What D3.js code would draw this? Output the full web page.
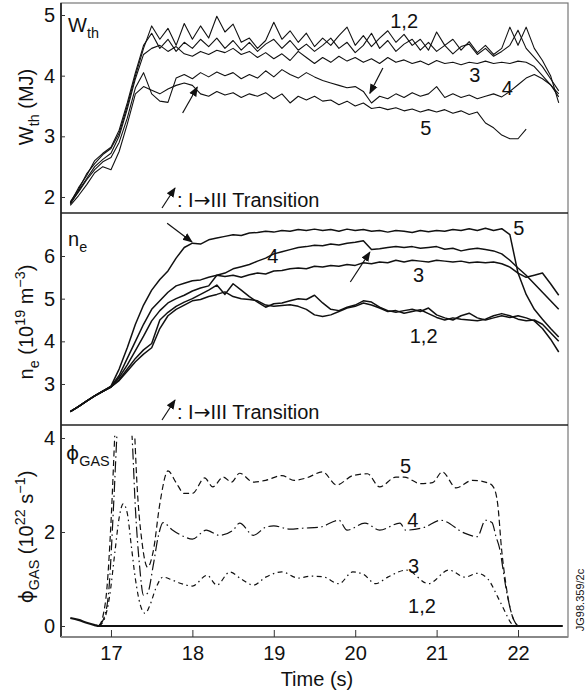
<!DOCTYPE html>
<html lang="en">
<head>
  <meta charset="utf8">
  <script type="text/javascript" src="https://cdn.jsdelivr.net/npm/d3@7"></script>
  <title>JET</title>
  <style>
    body { margin: 0; background: #fff; }
    text { font-family: "Liberation Sans", Arial, Helvetica, sans-serif; fill: #111; }
  </style>
</head>
<body>
  <div id="chart"></div>
<script type="text/javascript">

  // 时间 (s)
  var tGrid = [16.5, 16.6, 16.7, 16.8, 16.9,
    17.0, 17.1, 17.2, 17.3, 17.4, 17.5, 17.6, 17.7, 17.8, 17.9,
    18.0, 18.1, 18.2, 18.3, 18.4, 18.5, 18.6, 18.7, 18.8, 18.9,
    19.0, 19.1, 19.2, 19.3, 19.4, 19.5, 19.6, 19.7, 19.8, 19.9,
    20.0, 20.1, 20.2, 20.3, 20.4, 20.5, 20.6, 20.7, 20.8, 20.9,
    21.0, 21.1, 21.2, 21.3, 21.4, 21.5, 21.6, 21.7, 21.8, 21.9,
    22.0, 22.1, 22.2, 22.3, 22.4, 22.5];

  // W_th (MJ)
  var wth1 = [1.92, 2.12, 2.38, 2.55, 2.7,
    2.8, 3.05, 3.5, 4.0, 4.45, 4.82, 4.6, 4.78, 4.5, 4.86,
    4.6, 4.82, 4.62, 4.98, 4.72, 4.85, 4.55, 4.62, 4.45, 4.58,
    4.88, 4.6, 4.74, 4.55, 4.7, 4.48, 4.62, 4.5, 4.66, 4.8,
    4.5, 4.66, 4.48, 4.62, 4.74, 4.55, 4.68, 4.5, 4.6, 4.42,
    4.72, 4.5, 4.6, 4.42, 4.56, 4.38, 4.5, 4.35, 4.45, 4.8,
    4.5, 4.8, 4.45, 4.25, 4.0, 3.55];
  var wth2 = [1.9, 2.15, 2.35, 2.6, 2.72,
    2.82, 3.1, 3.55, 4.05, 4.5, 4.7, 4.45, 4.6, 4.4, 4.55,
    4.45, 4.6, 4.48, 4.62, 4.45, 4.58, 4.42, 4.55, 4.4, 4.52,
    4.6, 4.45, 4.58, 4.42, 4.52, 4.4, 4.5, 4.62, 4.45, 4.55,
    4.38, 4.5, 4.7, 4.45, 4.58, 4.4, 4.52, 4.6, 4.42, 4.55,
    4.4, 4.5, 4.36, 4.48, 4.52, 4.35, 4.45, 4.32, 4.4, 4.5,
    4.75, 4.45, 4.3, 4.15, 3.95, 3.75];
  var wth3 = [1.88, 2.1, 2.3, 2.5, 2.62,
    2.72, 3.0, 3.45, 3.95, 4.35, 4.45, 4.5, 4.4, 4.48, 4.36,
    4.32, 4.4, 4.35, 4.42, 4.38, 4.45, 4.35, 4.4, 4.3, 4.38,
    4.28, 4.36, 4.25, 4.4, 4.3, 4.2, 4.3, 4.22, 4.32, 4.24,
    4.3, 4.22, 4.28, 4.2, 4.3, 4.22, 4.26, 4.2, 4.24, 4.18,
    4.25, 4.2, 4.22, 4.18, 4.22, 4.2, 4.24, 4.2, 4.22, 4.2,
    4.24, 4.22, 4.15, 4.0, 3.85, 3.65];
  var wth4 = [1.9, 2.08, 2.28, 2.45, 2.58,
    2.65, 2.9, 3.3, 3.8, 4.05, 3.7, 3.58, 3.56, 3.96, 4.02,
    3.95, 4.05, 3.98, 4.06, 4.0, 4.05, 3.95, 4.02, 3.96, 4.08,
    3.98, 4.1, 4.02, 3.96, 4.05, 3.98, 3.92, 3.88, 3.84, 3.8,
    3.82, 3.74, 3.55, 3.66, 3.62, 3.7, 3.64, 3.72, 3.66, 3.7,
    3.82, 3.64, 3.7, 3.64, 3.68, 3.62, 3.66, 3.7, 3.65, 3.74,
    3.85, 3.96, 4.02, 3.95, 3.85, 3.7];
  var wth5 = [1.86, 2.02, 2.2, 2.4, 2.5,
    2.45, 2.75, 3.2, 3.7, 3.82, 3.76, 3.7, 3.78, 3.84, 3.88,
    3.84, 3.7, 3.66, 3.74, 3.68, 3.72, 3.64, 3.7, 3.66, 3.72,
    3.62, 3.7, 3.55, 3.66, 3.6, 3.66, 3.58, 3.6, 3.52, 3.58,
    3.5, 3.55, 3.46, 3.48, 3.44, 3.47, 3.42, 3.45, 3.4, 3.44,
    3.4, 3.44, 3.38, 3.42, 3.36, 3.4, 3.22, 3.14, 3.02, 2.96,
    2.96, 3.12, null, null, null, null];

  // n_e (10^19 m^-3)
  var ne1 = [2.35, 2.47, 2.6, 2.72, 2.83,
    2.93, 3.1, 3.35, 3.6, 3.8, 3.95, 4.5, 4.68, 4.82, 4.92,
    5.0, 5.1, 5.2, 5.32, 5.1, 5.35, 5.2, 5.05, 4.92, 4.8,
    4.88, 4.9, 4.95, 5.0, 4.98, 5.08, 4.9, 4.75, 4.72, 4.8,
    4.85, 4.95, 4.92, 4.8, 4.72, 4.68, 4.72, 4.75, 4.7, 4.78,
    4.62, 4.55, 4.5, 4.6, 4.66, 4.55, 4.5, 4.55, 4.6, 4.56,
    4.6, 4.55, 4.48, 4.3, 4.05, 3.75];
  var ne2 = [2.35, 2.47, 2.6, 2.72, 2.83,
    2.93, 3.08, 3.3, 3.52, 3.7, 3.85, 4.3, 4.6, 4.75, 4.85,
    4.95, 4.98, 5.05, 5.1, 5.16, 5.05, 5.0, 4.98, 4.95, 4.85,
    4.82, 4.84, 4.86, 4.82, 4.75, 4.62, 4.58, 4.62, 4.7, 4.78,
    4.82, 4.9, 4.85, 4.78, 4.7, 4.72, 4.66, 4.7, 4.74, 4.65,
    4.56, 4.5, 4.55, 4.52, 4.5, 4.48, 4.52, 4.6, 4.65, 4.6,
    4.52, 4.48, 4.5, 4.4, 4.2, 4.0];
  var ne3 = [2.35, 2.47, 2.6, 2.72, 2.83,
    2.93, 3.15, 3.45, 3.78, 4.12, 4.48, 4.72, 4.9, 5.0, 5.08,
    5.18, 5.25, 5.3, 5.55, 5.52, 5.55, 5.5, 5.56, 5.6, 5.58,
    5.65, 5.66, 5.7, 5.72, 5.7, 5.76, 5.74, 5.78, 5.76, 5.8,
    5.78, 5.84, 5.82, 5.86, 5.84, 5.9, 5.86, 5.9, 5.88, 5.86,
    5.9, 5.88, 5.86, 5.88, 5.84, 5.86, 5.84, 5.86, 5.82, 5.74,
    5.6, 5.5, 5.55, 5.6, 5.35, 5.08];
  var ne4 = [2.35, 2.47, 2.6, 2.72, 2.83,
    2.94, 3.2, 3.6, 4.0, 4.4, 4.75, 4.95, 5.15, 5.3, 5.36,
    5.42, 5.44, 5.5, 5.55, 5.6, 5.7, 5.75, 5.8, 5.88, 5.95,
    6.05, 6.1, 6.15, 6.2, 6.22, 6.25, 6.24, 6.28, 6.26, 6.3,
    6.32, 6.36, 6.15, 6.17, 6.2, 6.22, 6.2, 6.22, 6.18, 6.2,
    6.22, 6.16, 6.18, 6.12, 6.16, 6.18, 6.15, 6.12, 6.05, 5.9,
    5.72, 5.55, 5.35, 5.15, 4.95, 4.75];
  var ne5 = [2.35, 2.47, 2.6, 2.72, 2.83,
    2.95, 3.35, 3.85, 4.4, 4.85, 5.2, 5.45, 5.65, 5.95, 6.2,
    6.3, 6.28, 6.38, 6.42, 6.46, 6.5, 6.48, 6.54, 6.55, 6.58,
    6.56, 6.6, 6.58, 6.62, 6.6, 6.63, 6.6, 6.62, 6.58, 6.63,
    6.6, 6.62, 6.58, 6.6, 6.56, 6.6, 6.58, 6.55, 6.6, 6.57,
    6.6, 6.58, 6.62, 6.6, 6.64, 6.6, 6.65, 6.6, 6.64, 6.5,
    5.6, 5.1, 4.75, 4.52, 4.3, 4.1];

  // phi_GAS (10^22 s^-1)
  var gasT12 = [16.5, 16.6, 16.7, 16.8, 16.85, 17.0, 22.55];
  var gas12 = [0.17, 0.13, 0.07, 0.02, 0, 0, 0];
  var gasT3 = [16.85, 16.92, 16.98, 17.05, 17.1, 17.15, 17.2, 17.25, 17.3, 17.36, 17.42, 17.48, 17.55,
    17.64, 17.75, 17.85, 18.0, 18.18, 18.3, 18.46, 18.6, 18.75, 18.9, 19.1, 19.3, 19.45, 19.6,
    19.8, 19.97, 20.1, 20.25, 20.4, 20.63, 20.9, 21.15, 21.35, 21.5, 21.63, 21.75, 21.85, 21.9, 21.95];
  var gas3 = [0, 0.15, 0.6, 1.6, 2.3, 2.6, 2.4, 1.7, 1.0, 0.45, 0.27, 0.45, 0.8,
    1.04, 0.98, 0.91, 0.85, 1.08, 0.87, 1.15, 1.0, 0.87, 1.04, 1.15, 1.02, 1.06, 1.05,
    0.9, 1.15, 1.1, 0.9, 1.04, 1.19, 0.9, 1.19, 1.04, 1.12, 1.0, 0.62, 0.27, 0.1, 0];
  var gasT4 = [16.85, 16.92, 16.98, 17.03, 17.08, 17.15, 17.22, 17.26, 17.3, 17.35, 17.4, 17.45, 17.52,
    17.58, 17.64, 17.75, 17.9, 18.0, 18.17, 18.33, 18.5, 18.58, 18.75, 18.9, 19.0, 19.2, 19.35,
    19.56, 19.8, 19.9, 20.12, 20.3, 20.55, 20.62, 20.85, 21.05, 21.35, 21.5, 21.6, 21.68, 21.73,
    21.77, 21.85, 21.9, 21.95, 22.0];
  var gas4 = [0, 0.2, 0.9, 2.5, 4.3, 6.0, 5.0, 4.0, 2.5, 1.3, 0.65, 0.7, 1.3,
    1.9, 2.2, 2.05, 1.9, 1.85, 2.04, 1.93, 2.04, 2.19, 1.93, 2.1, 2.13, 2.06, 2.08,
    2.1, 2.25, 2.04, 2.19, 2.04, 2.19, 2.04, 2.1, 2.25, 1.97, 1.9, 2.25, 2.2, 1.9,
    1.68, 0.83, 0.4, 0.12, 0];
  var gasT5 = [16.85, 16.9, 16.95, 17.0, 17.05, 17.1, 17.2, 17.28, 17.32, 17.38, 17.45, 17.52, 17.6,
    17.7, 17.8, 17.9, 18.0, 18.15, 18.25, 18.38, 18.48, 18.58, 18.75, 18.9, 19.1, 19.25, 19.4,
    19.6, 19.77, 19.97, 20.15, 20.3, 20.5, 20.6, 20.8, 20.95, 21.07, 21.24, 21.44, 21.64, 21.7,
    21.75, 21.8, 21.85, 21.9, 21.95, 22.0];
  var gas5 = [0, 0.2, 0.8, 2.2, 4.2, 6.0, 6.5, 4.5, 3.0, 1.8, 1.25, 1.6, 2.6,
    3.3, 3.05, 2.82, 2.82, 3.15, 2.96, 3.17, 3.06, 3.25, 3.06, 3.1, 3.2, 3.1, 3.15,
    3.28, 3.0, 3.2, 3.24, 2.96, 3.17, 3.17, 3.03, 3.05, 3.28, 2.94, 3.1, 3.04, 2.95,
    2.6, 1.6, 0.9, 0.4, 0.12, 0];

  // 刻度
  var wTicks = [2, 3, 4, 5], neTicks = [3, 4, 5, 6], gasTicks = [0, 2, 4];
  var timeTicks = [17, 18, 19, 20, 21, 22];

  var width = 587, height = 693;
  var L = 61, R = 568;

  var svg = d3.select("#chart").append("svg")
    .attr("width", width).attr("height", height);

  var x = d3.scaleLinear().domain([16.386, 22.614]).range([L, R]);
  var yW = d3.scaleLinear().domain([1.736, 5.198]).range([213, 3]);
  var yN = d3.scaleLinear().domain([2.039, 7.008]).range([425, 213]);
  var yG = d3.scaleLinear().domain([-0.234, 4.277]).range([637, 425]);

  var defs = svg.append("defs");
  defs.append("marker").attr("id", "head")
    .attr("viewBox", "0 0 10 10").attr("refX", 9).attr("refY", 5)
    .attr("markerWidth", 10).attr("markerHeight", 10)
    .attr("markerUnits", "userSpaceOnUse").attr("orient", "auto")
    .append("path").attr("d", "M0,1 L10,5 L0,9 Z").attr("fill", "#111");

  function clip(id, y0, y1) {
    defs.append("clipPath").attr("id", id).append("rect")
      .attr("x", L).attr("y", y0).attr("width", R - L).attr("height", y1 - y0);
  }
  clip("c1", 4, 212);
  clip("c2", 214, 424);
  clip("c3", yG(4.05), 636);

  function series(ts, vs) {
    return ts.map(function (t, i) { return [t, vs[i]]; });
  }

  function drawLines(y, list, clipId, width, curve) {
    var line = d3.line()
      .defined(function (d) { return d[1] != null; })
      .x(function (d) { return x(d[0]); })
      .y(function (d) { return y(d[1]); })
      .curve(curve);
    var g = svg.append("g").attr("clip-path", "url(#" + clipId + ")")
      .attr("fill", "none").attr("stroke", "#111")
      .attr("stroke-linejoin", "round");
    list.forEach(function (s) {
      g.append("path").attr("d", line(s.data))
        .attr("stroke-width", s.w || width)
        .attr("stroke-dasharray", s.dash || null);
    });
  }

  // W_th
  drawLines(yW, [wth1, wth2, wth3, wth4, wth5].map(function (v) {
    return { data: series(tGrid, v) };
  }), "c1", 1.1, d3.curveLinear);

  // n_e
  drawLines(yN, [ne1, ne2, ne3, ne4, ne5].map(function (v) {
    return { data: series(tGrid, v) };
  }), "c2", 1.5, d3.curveLinear);

  // phi_GAS
  drawLines(yG, [
    { data: series(gasT3, gas3), dash: "5,3.5,1.5,3.5" },
    { data: series(gasT4, gas4), dash: "11,3.5,1.5,3.5" },
    { data: series(gasT5, gas5), dash: "6,3.5" },
    { data: series(gasT12, gas12), w: 2.2 }
  ], "c3", 1.2, d3.curveMonotoneX);

  // 边框
  svg.append("rect").attr("x", L).attr("y", 3).attr("width", R - L).attr("height", 634)
    .attr("fill", "none").attr("stroke", "#777").attr("stroke-width", 1.2);
  svg.append("line").attr("x1", L).attr("x2", L).attr("y1", 3).attr("y2", 637)
    .attr("stroke", "#111").attr("stroke-width", 1.5);
  [213, 425].forEach(function (yy) {
    svg.append("line").attr("x1", L).attr("x2", R).attr("y1", yy).attr("y2", yy)
      .attr("stroke", "#222").attr("stroke-width", 1.3);
  });
  svg.append("line").attr("x1", L).attr("x2", R).attr("y1", 637).attr("y2", 637)
    .attr("stroke", "#888").attr("stroke-width", 2);

  // 坐标轴
  function yAxis(y, ticks) {
    var g = svg.append("g").attr("transform", "translate(" + L + ",0)")
      .call(d3.axisLeft(y).tickValues(ticks).tickSize(-4).tickPadding(6).tickFormat(d3.format("d")));
    g.select(".domain").remove();
    g.selectAll("text").attr("font-size", 20).attr("font-family", null);
    g.selectAll("line").attr("stroke", "#333");
  }
  yAxis(yW, wTicks);
  yAxis(yN, neTicks);
  yAxis(yG, gasTicks);

  var gx = svg.append("g").attr("transform", "translate(0,637)")
    .call(d3.axisBottom(x).tickValues(timeTicks).tickSize(-7).tickPadding(9).tickFormat(d3.format("d")));
  gx.select(".domain").remove();
  gx.selectAll("text").attr("font-size", 20).attr("font-family", null);
  gx.selectAll("line").attr("stroke", "#333");

  svg.append("text").attr("x", x(19.53)).attr("y", 686)
    .attr("text-anchor", "middle").attr("font-size", 20).text("Time (s)");

  // 带下标/上标的文字
  function richText(parent, parts, size) {
    var t = parent.append("text").attr("font-size", size);
    var shift = 0;
    parts.forEach(function (p) {
      var dy = 0, fs = size;
      if (p[1] == "sub") { dy = size * 0.28; fs = size * 0.72; }
      if (p[1] == "sup") { dy = -size * 0.38; fs = size * 0.72; }
      var ts = t.append("tspan").attr("dy", dy - shift).attr("font-size", fs).text(p[0]);
      if (p[1] == "sym") ts.attr("font-family", "DejaVu Sans");
      shift = dy;
    });
    return t;
  }

  var phi = "\u03d5";
  richText(svg, [["W"], ["th", "sub"], [" (MJ)"]], 20)
    .attr("text-anchor", "middle").attr("transform", "translate(33,107) rotate(-90)");
  richText(svg, [["n"], ["e", "sub"], [" (10"], ["19", "sup"], [" m"], ["\u22123", "sup"], [")"]], 20)
    .attr("text-anchor", "middle").attr("transform", "translate(33,322) rotate(-90)");
  richText(svg, [[phi, "sym"], ["GAS", "sub"], [" (10"], ["22", "sup"], [" s"], ["\u22121", "sup"], [")"]], 20)
    .attr("text-anchor", "middle").attr("transform", "translate(33,537) rotate(-90)");

  richText(svg, [["W"], ["th", "sub"]], 20).attr("x", 68).attr("y", 32);
  richText(svg, [["n"], ["e", "sub"]], 20).attr("x", 68).attr("y", 246);
  richText(svg, [[phi, "sym"], ["GAS", "sub"]], 20).attr("x", 66).attr("y", 460);

  // 曲线编号
  var labels = [
    [yW, 20.43, 4.79, "1,2"], [yW, 21.40, 3.90, "3"], [yW, 21.80, 3.68, "4"], [yW, 20.80, 3.02, "5"],
    [yN, 18.92, 5.84, "4"], [yN, 20.71, 5.39, "3"], [yN, 20.67, 3.96, "1,2"], [yN, 21.94, 6.49, "5"],
    [yG, 20.55, 3.26, "5"], [yG, 20.64, 2.11, "4"], [yG, 20.65, 1.13, "3"], [yG, 20.65, 0.28, "1,2"]
  ];
  labels.forEach(function (d) {
    svg.append("text").attr("x", x(d[1])).attr("y", d[0](d[2]))
      .attr("font-size", 20).text(d[3]);
  });

  // 转换箭头
  var arrows = [
    [yW, 17.88, 3.385, 18.06, 3.81], [yW, 20.34, 4.127, 20.18, 3.71],
    [yN, 17.69, 6.77, 17.995, 6.33], [yN, 19.94, 5.39, 20.18, 6.09]
  ];
  arrows.forEach(function (a) {
    svg.append("line")
      .attr("x1", x(a[1])).attr("y1", a[0](a[2]))
      .attr("x2", x(a[3])).attr("y2", a[0](a[4]))
      .attr("stroke", "#111").attr("stroke-width", 1.2)
      .attr("marker-end", "url(#head)");
  });

  // 图例
  [207, 419].forEach(function (yb) {
    svg.append("line").attr("x1", 162).attr("y1", yb + 1).attr("x2", 175).attr("y2", yb - 19)
      .attr("stroke", "#111").attr("stroke-width", 1.2).attr("marker-end", "url(#head)");
    var t = svg.append("text").attr("x", 177).attr("y", yb).attr("font-size", 20);
    t.append("tspan").text(": I");
    t.append("tspan").attr("font-family", "DejaVu Sans").text("\u2192");
    t.append("tspan").text("III Transition");
  });

  svg.append("text").attr("transform", "translate(584,600) rotate(-90)")
    .attr("text-anchor", "middle").attr("font-size", 11).text("JG98.359/2c");

</script>
</body>
</html>
